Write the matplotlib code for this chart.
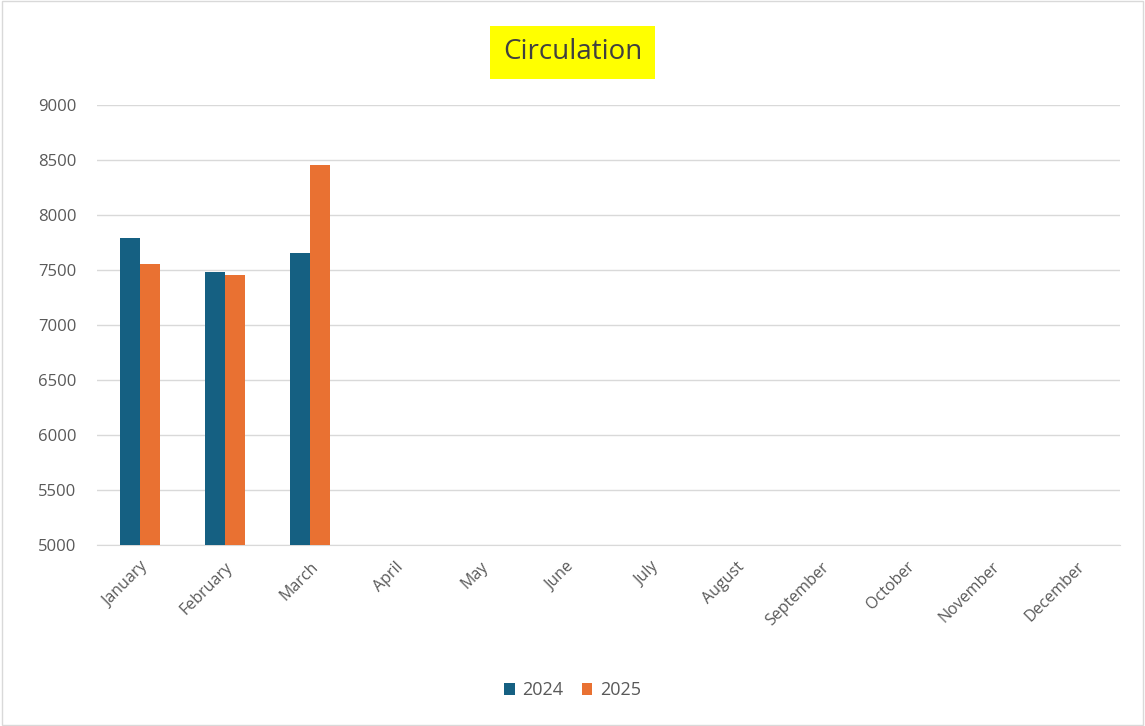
import matplotlib.pyplot as plt
import numpy as np
from matplotlib.patches import Rectangle

months = ["January", "February", "March", "April", "May", "June", "July",
          "August", "September", "October", "November", "December"]
circ_2024 = [7790, 7485, 7650]
circ_2025 = [7555, 7455, 8455]
yticks = [5000, 5500, 6000, 6500, 7000, 7500, 8000, 8500, 9000]

plt.rcParams['font.family'] = ['Open Sans', 'DejaVu Sans']

fig = plt.figure(figsize=(11.45, 7.26), dpi=100)
fig.patches.append(Rectangle((0.002, 0.002), 0.996, 0.996, transform=fig.transFigure,
                             fill=False, edgecolor="#d9d9d9", linewidth=1))
ax = fig.add_axes([0.0847, 0.2493, 0.8933, 0.6061])

x = np.arange(len(months))
w = 0.235
ax.bar(x[:len(circ_2024)] - w / 2, circ_2024, w, color="#156082", label="2024", zorder=3)
ax.bar(x[:len(circ_2025)] + w / 2, circ_2025, w, color="#E97132", label="2025", zorder=3)

ax.set_xlim(-0.5, len(months) - 0.5)
ax.set_ylim(5000, 9000)
ax.set_yticks(yticks)
ax.set_yticklabels([str(v) for v in yticks], fontsize=12, color="#595959")
ax.set_xticks(x)
ax.set_xticklabels(months, rotation=45, ha="right", rotation_mode="anchor",
                   fontsize=11.5, color="#595959")
ax.tick_params(axis="x", length=0, pad=10)
ax.tick_params(axis="y", length=0, pad=15)
ax.grid(axis="y", color="#d9d9d9", linewidth=1, zorder=0)
for s in ["top", "right", "left"]:
    ax.spines[s].set_visible(False)
ax.spines["bottom"].set_color("#d9d9d9")

fig.text(0.5, 0.928, "Circulation", ha="center", va="center", fontsize=20,
         fontweight="medium", color="#404040",
         bbox=dict(facecolor="#ffff00", edgecolor="none", pad=9))

fig.legend(loc="center", bbox_to_anchor=(0.5, 0.049), ncol=2, frameon=False,
           fontsize=13, handlelength=0.6, handleheight=0.6, columnspacing=1.0,
           handletextpad=0.4, labelcolor="#595959")

plt.savefig("out.png", dpi=100)
